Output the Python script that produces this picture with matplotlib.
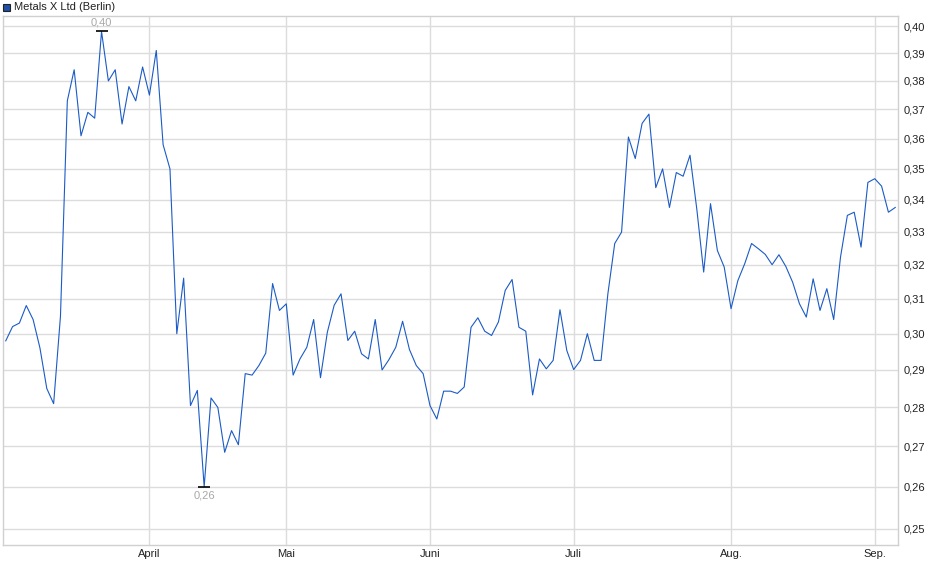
import matplotlib
matplotlib.use('Agg')
import matplotlib.pyplot as plt
import numpy as np
import pandas as pd
from matplotlib.ticker import FixedLocator, FuncFormatter, NullLocator

plt.rcParams['font.family'] = ['Liberation Sans', 'DejaVu Sans']

title = 'Metals X Ltd (Berlin)'

# trading days (Berlin), Mar 3 - Sep 4
holidays = ['2020-04-10', '2020-04-13', '2020-06-01']
month_names = {4: 'April', 5: 'Mai', 6: 'Juni', 7: 'Juli', 8: 'Aug.', 9: 'Sep.'}

prices = [
    0.298, 0.302, 0.303, 0.308, 0.304, 0.296, 0.285, 0.281, 0.305, 0.373,
    0.384, 0.361, 0.369, 0.367, 0.398, 0.380, 0.384, 0.365, 0.378, 0.373,
    0.385, 0.375, 0.391, 0.358, 0.350, 0.300, 0.316, 0.2805, 0.2845, 0.260,
    0.2825, 0.280, 0.2685, 0.274, 0.2704, 0.289, 0.2886, 0.2912, 0.2946, 0.3144,
    0.3066, 0.3085, 0.2886, 0.293, 0.2962, 0.304, 0.2879, 0.3004, 0.3081, 0.3114,
    0.2981, 0.3007, 0.2944, 0.293, 0.304, 0.290, 0.2928, 0.2962, 0.3035, 0.2956,
    0.2912, 0.289, 0.2805, 0.277, 0.2843, 0.2843, 0.2837, 0.2854, 0.3018, 0.3045,
    0.3007, 0.2995, 0.3033, 0.3124, 0.3156, 0.3018, 0.3007, 0.2833, 0.293, 0.2903,
    0.2926, 0.3068, 0.2953, 0.2901, 0.2926, 0.300, 0.2926, 0.2926, 0.3114, 0.3264,
    0.3299, 0.3606, 0.3534, 0.3652, 0.3684, 0.3439, 0.350, 0.3376, 0.3488, 0.3476,
    0.3545, 0.337, 0.3178, 0.3388, 0.3243, 0.3193, 0.3071, 0.3153, 0.3203, 0.3264,
    0.3248, 0.3231, 0.320, 0.323, 0.3195, 0.3148, 0.3085, 0.3047, 0.3158, 0.3066,
    0.3129, 0.304, 0.3223, 0.3351, 0.3361, 0.3253, 0.3456, 0.3468, 0.3444, 0.3361,
    0.3376,
]

y_ticks = [0.25, 0.26, 0.27, 0.28, 0.29, 0.30, 0.31, 0.32, 0.33, 0.34,
           0.35, 0.36, 0.37, 0.38, 0.39, 0.40]

LINE = '#1b5bc6'
GRID = '#dcdcdc'


def de_fmt(v, pos=None):
    return '{:.2f}'.format(v).replace('.', ',')


dates = pd.bdate_range('2020-03-03', periods=len(prices), freq='C', holidays=holidays)
x = np.arange(len(prices))
months = dates.month.values
month_pos = [i for i in range(1, len(x)) if months[i] != months[i - 1]]
month_lbl = [month_names[months[i]] for i in month_pos]

fig = plt.figure(figsize=(9.4, 5.79), dpi=100)
ax = fig.add_axes([3 / 940, 1 - 545 / 579, 895 / 940, 529 / 579])

ax.plot(x, prices, color=LINE, lw=0.8)

ax.set_yscale('log')
ax.set_ylim(0.2462, 0.4038)
ax.set_xlim(-0.4, len(x) - 0.6)

ax.yaxis.set_major_locator(FixedLocator(y_ticks))
ax.yaxis.set_minor_locator(NullLocator())
ax.yaxis.set_major_formatter(FuncFormatter(de_fmt))
ax.yaxis.tick_right()
ax.set_xticks(month_pos)
ax.set_xticklabels(month_lbl)

ax.grid(True, color=GRID, lw=1)
ax.tick_params(axis='both', labelsize=8, colors='#222222', length=0)
ax.tick_params(axis='x', pad=3)
ax.tick_params(axis='y', pad=4)
for s in ax.spines.values():
    s.set_color('#d0d0d0')
    s.set_linewidth(1)

# high / low marks
hi = int(np.argmax(prices))
lo = int(np.argmin(prices))
ax.plot([hi, lo], [prices[hi], prices[lo]], ls='none', marker='_', ms=8, mew=1.2, color='black')
ax.annotate(de_fmt(prices[hi]), (hi, prices[hi]), xytext=(0, 3), textcoords='offset points',
            ha='center', va='bottom', fontsize=8, color='#a8a8a8')
ax.annotate(de_fmt(prices[lo]), (lo, prices[lo]), xytext=(0, -3), textcoords='offset points',
            ha='center', va='top', fontsize=8, color='#a8a8a8')

# legend square + name
fig.patches.append(plt.Rectangle((3 / 940, 1 - 11 / 579), 7 / 940, 7 / 579, transform=fig.transFigure,
                                 facecolor='#1f4fa8', edgecolor='#222222', lw=0.8))
fig.text(14 / 940, 1 - 7.5 / 579, title, fontsize=8, color='#222222', va='center', ha='left')

plt.savefig('out.png', dpi=100)
